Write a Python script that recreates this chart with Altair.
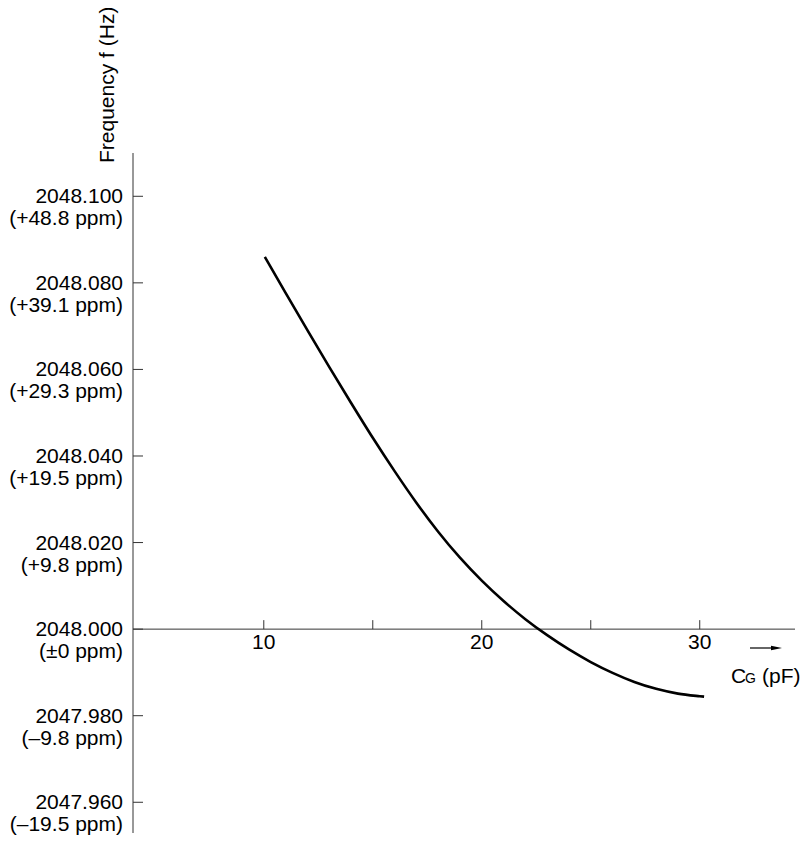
import altair as alt
import pandas as pd

# ---- data ----
cap_pf = [10.05, 11, 12, 13, 14, 15, 16, 17, 18, 19, 20, 21, 22, 23, 24, 25, 26, 27, 28, 29, 30, 30.2]
freq_offset_mhz = [86.0, 77.7, 69.1, 60.6, 52.3, 44.2, 36.5, 29.2, 22.5, 16.5, 11.2, 6.5, 2.3,
                   -1.4, -4.7, -7.6, -10.1, -12.2, -13.8, -14.9, -15.5, -15.6]

y_tick_values = [100, 80, 60, 40, 20, 0, -20, -40]
y_tick_freq = ["2048.100", "2048.080", "2048.060", "2048.040", "2048.020", "2048.000", "2047.980", "2047.960"]
y_tick_ppm = ["(+48.8 ppm)", "(+39.1 ppm)", "(+29.3 ppm)", "(+19.5 ppm)", "(+9.8 ppm)",
              "(\u00b10 ppm)", "(\u20139.8 ppm)", "(\u201319.5 ppm)"]
x_tick_values = [10, 15, 20, 25, 30]
x_tick_labels = ["10", "", "20", "", "30"]

y_title = "Frequency f (Hz)"
x_title_main = "C"
x_title_sub = "G"
x_title_unit = "(pF)"

# ---- layout ----
W, H = 662, 680
FONT = "Liberation Sans"
FS = 21
AX = "#333333"

xs = alt.Scale(domain=[4.0, 34.37], nice=False, zero=False)
ys = alt.Scale(domain=[-47.1, 110], nice=False, zero=False)

curve_df = pd.DataFrame({"c": cap_pf, "f": freq_offset_mhz})
ytick_df = pd.DataFrame({"v": y_tick_values, "freq": y_tick_freq, "ppm": y_tick_ppm})
xtick_df = pd.DataFrame({"v": x_tick_values, "lab": x_tick_labels, "zero": [0] * len(x_tick_values)})
zero_df = pd.DataFrame({"zero": [0]})
title_df = pd.DataFrame({"t": [y_title]})
xt_df = pd.DataFrame({"a": [x_title_main], "b": [x_title_sub], "c": [x_title_unit]})

X = lambda f: alt.X(f, scale=xs, axis=None)
Y = lambda f: alt.Y(f, scale=ys, axis=None)

curve = alt.Chart(curve_df).mark_line(color="black", strokeWidth=2.6, interpolate="monotone").encode(
    x=X("c:Q"), y=Y("f:Q"))

y_axis_line = alt.Chart(zero_df).mark_rule(color=AX, strokeWidth=1).encode(
    x=alt.value(0), y=alt.value(0), y2=alt.value(H))
x_axis_line = alt.Chart(zero_df).mark_rule(color=AX, strokeWidth=1).encode(
    y=Y("zero:Q"), x=alt.value(0), x2=alt.value(W))

y_ticks = alt.Chart(ytick_df).mark_rule(color=AX, strokeWidth=1).encode(
    y=Y("v:Q"), x=alt.value(0), x2=alt.value(10))
x_ticks = alt.Chart(xtick_df).mark_rule(color=AX, strokeWidth=1, y2Offset=-9).encode(
    x=X("v:Q"), y=Y("zero:Q"), y2="zero:Q")

y_lab1 = alt.Chart(ytick_df).mark_text(font=FONT, fontSize=FS, align="right", baseline="middle",
                                       color="black", dy=1).encode(
    y=Y("v:Q"), x=alt.value(-10), text="freq:N")
y_lab2 = alt.Chart(ytick_df).mark_text(font=FONT, fontSize=FS, align="right", baseline="middle",
                                       color="black", dy=23).encode(
    y=Y("v:Q"), x=alt.value(-10), text="ppm:N")
x_lab = alt.Chart(xtick_df).mark_text(font=FONT, fontSize=FS, align="center", baseline="middle",
                                      color="black", dy=14).encode(
    x=X("v:Q"), y=Y("zero:Q"), text="lab:N")

y_tt = alt.Chart(title_df).mark_text(font=FONT, fontSize=FS, angle=270, align="left", baseline="middle",
                                     color="black").encode(
    x=alt.value(-25.5), y=alt.value(10), text="t:N")

arrow_line = alt.Chart(zero_df).mark_rule(color="black", strokeWidth=1.2).encode(
    x=alt.value(617), x2=alt.value(638), y=alt.value(495))
arrow_head = alt.Chart(zero_df).mark_point(shape="M -1 -0.43 L 1 0 L -1 0.43 Z", filled=True,
                                          color="black", size=121, opacity=1).encode(
    x=alt.value(643.5), y=alt.value(495))
xt_a = alt.Chart(xt_df).mark_text(font=FONT, fontSize=FS, align="left", baseline="alphabetic",
                                  color="black").encode(x=alt.value(598), y=alt.value(530), text="a:N")
xt_b = alt.Chart(xt_df).mark_text(font=FONT, fontSize=14, align="left", baseline="alphabetic",
                                  color="black").encode(x=alt.value(612), y=alt.value(530), text="b:N")
xt_c = alt.Chart(xt_df).mark_text(font=FONT, fontSize=FS, align="left", baseline="alphabetic",
                                  color="black").encode(x=alt.value(629), y=alt.value(530), text="c:N")

chart = alt.layer(
    y_axis_line, x_axis_line, y_ticks, x_ticks, y_lab1, y_lab2, x_lab, y_tt,
    arrow_line, arrow_head, xt_a, xt_b, xt_c, curve
).properties(
    width=W, height=H,
    autosize=alt.AutoSizeParams(type="none"),
    padding={"left": 125, "top": 145, "right": 6, "bottom": 2},
).configure_view(stroke=None)

chart.save("out.html", embed_options={"renderer": "svg", "actions": False})
